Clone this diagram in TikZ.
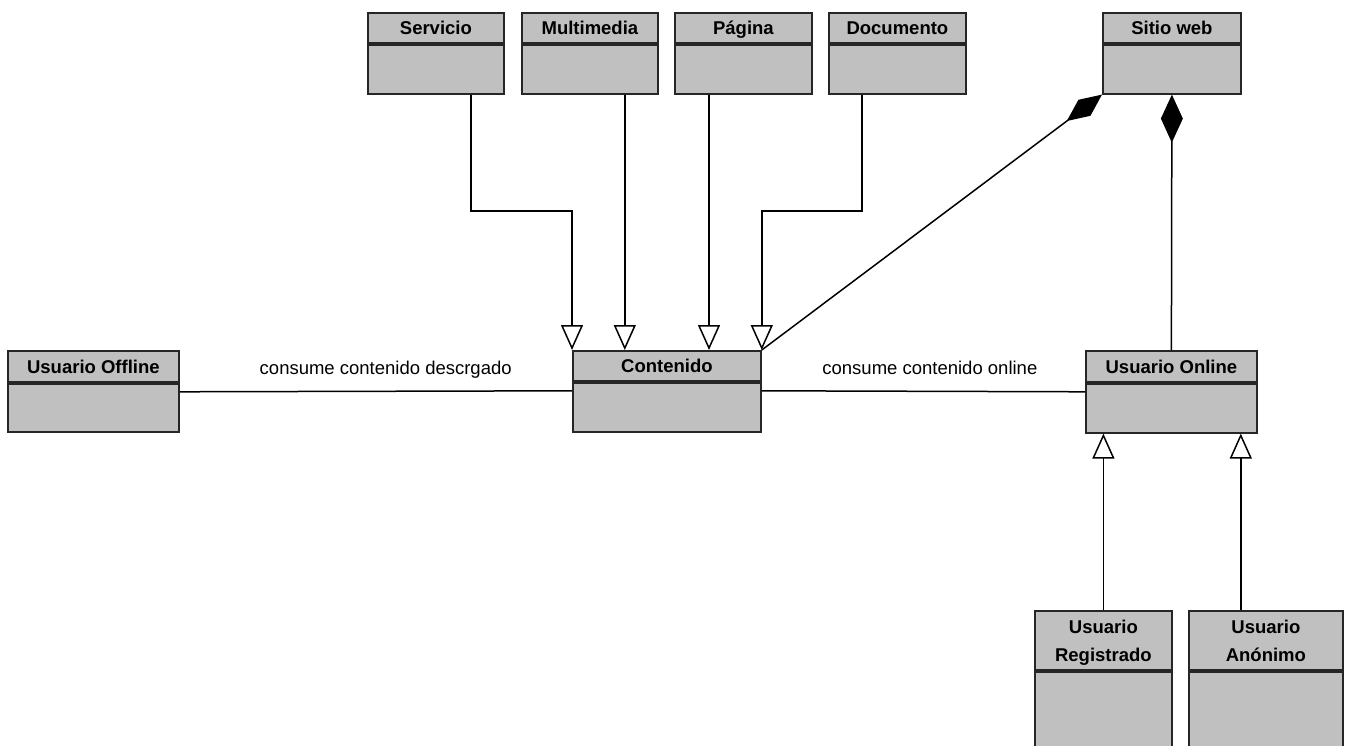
\documentclass[tikz,border=0pt]{standalone}
\usepackage{fontspec}
\setmainfont{Liberation Sans}
\usetikzlibrary{arrows.meta}
\definecolor{boxgray}{HTML}{C0C0C0}
\definecolor{linegray}{HTML}{262626}

\tikzset{
  classhead/.style={draw=linegray, fill=boxgray, line width=1.8pt, inner sep=0pt,
    anchor=north west, minimum height=30pt, align=center, text depth=0pt,
    font=\bfseries\fontsize{18.5}{28}\selectfont},
  classbody/.style={draw=linegray, fill=boxgray, line width=1.8pt, inner sep=0pt,
    anchor=north west, minimum height=49pt},
  gen/.style={draw, line width=1.5pt, -{Triangle[length=25pt, width=22pt, fill=white]}},
  comp/.style={draw, line width=1.5pt},
  assoc/.style={draw, line width=1.5pt},
  lbl/.style={font=\fontsize{18.5}{22}\selectfont, anchor=base, yshift=17pt}
}

\begin{document}
\begin{tikzpicture}[x=1pt, y=-1pt]
  \useasboundingbox (0,0) rectangle (1350,746);
  \clip (0,0) rectangle (1350,746);

  % clases de arriba
  \node[classhead, minimum width=136pt] (serv-h) at (367,12) {Servicio};
  \node[classbody, minimum width=136pt] (serv-b) at (serv-h.south west) {};
  \node[classhead, minimum width=136pt] (multi-h) at (521,12) {Multimedia};
  \node[classbody, minimum width=136pt] (multi-b) at (multi-h.south west) {};
  \node[classhead, minimum width=137pt] (pag-h) at (674,12) {Página};
  \node[classbody, minimum width=137pt] (pag-b) at (pag-h.south west) {};
  \node[classhead, minimum width=137pt] (doc-h) at (828,12) {Documento};
  \node[classbody, minimum width=137pt] (doc-b) at (doc-h.south west) {};
  \node[classhead, minimum width=138pt] (sitio-h) at (1102,12) {Sitio web};
  \node[classbody, minimum width=138pt] (sitio-b) at (sitio-h.south west) {};

  % fila del medio
  \node[classhead, minimum width=171pt, minimum height=31pt] (off-h) at (7,350) {Usuario Offline};
  \node[classbody, minimum width=171pt, minimum height=48pt] (off-b) at (off-h.south west) {};
  \node[classhead, minimum width=188pt] (cont-h) at (572,350) {Contenido};
  \node[classbody, minimum width=188pt] (cont-b) at (cont-h.south west) {};
  \node[classhead, minimum width=171pt, minimum height=31pt] (online-h) at (1085,350) {Usuario Online};
  \node[classbody, minimum width=171pt] (online-b) at (online-h.south west) {};

  % abajo
  \node[classhead, minimum width=137pt, minimum height=59pt] (reg-h) at (1034,610) {Usuario\\Registrado};
  \node[classbody, minimum width=137pt, minimum height=110pt] (reg-b) at (reg-h.south west) {};
  \node[classhead, minimum width=154pt, minimum height=59pt] (anon-h) at (1188,610) {Usuario\\Anónimo};
  \node[classbody, minimum width=154pt, minimum height=110pt] (anon-b) at (anon-h.south west) {};

  % herencia hacia Contenido
  \coordinate (bend) at (0,211);
  \coordinate (serv-out) at ([xshift=-34pt]serv-b.south east);
  \coordinate (multi-out) at ([xshift=-34pt]multi-b.south east);
  \coordinate (pag-out) at ([xshift=35pt]pag-b.south west);
  \coordinate (doc-out) at ([xshift=34pt]doc-b.south west);
  \draw[gen] (serv-out) -- (serv-out |- bend) -| (cont-h.north west);
  \draw[gen] (multi-out) -- (multi-out |- cont-h.north);
  \draw[gen] (pag-out) -- (pag-out |- cont-h.north);
  \draw[gen] (doc-out) -- (doc-out |- bend) -| (cont-h.north east);

  % composicion con Sitio web
  \draw[comp, -{Diamond[length=44pt, width=20pt]}] (cont-h.north east) -- (sitio-b.south west);
  \draw[comp, -{Diamond[length=48pt, width=22pt]}] (online-h.north) -- (sitio-b.south);

  % asociaciones
  \draw[assoc] ([yshift=-9pt]off-b.north east) -- ([yshift=-9pt]cont-b.north west)
    node[lbl, pos=0.525] {consume contenido descrgado};
  \draw[assoc] ([yshift=-9pt]cont-b.north east) -- ([yshift=-9pt]online-b.north west)
    node[lbl, pos=0.52] {consume contenido online};

  % herencia hacia Usuario Online
  \coordinate (anon-in) at ([xshift=-17pt]online-b.south east);
  \draw[gen] (reg-h.north) -- (reg-h.north |- online-b.south);
  \draw[gen] (anon-in |- anon-h.north) -- (anon-in);
\end{tikzpicture}
\end{document}
